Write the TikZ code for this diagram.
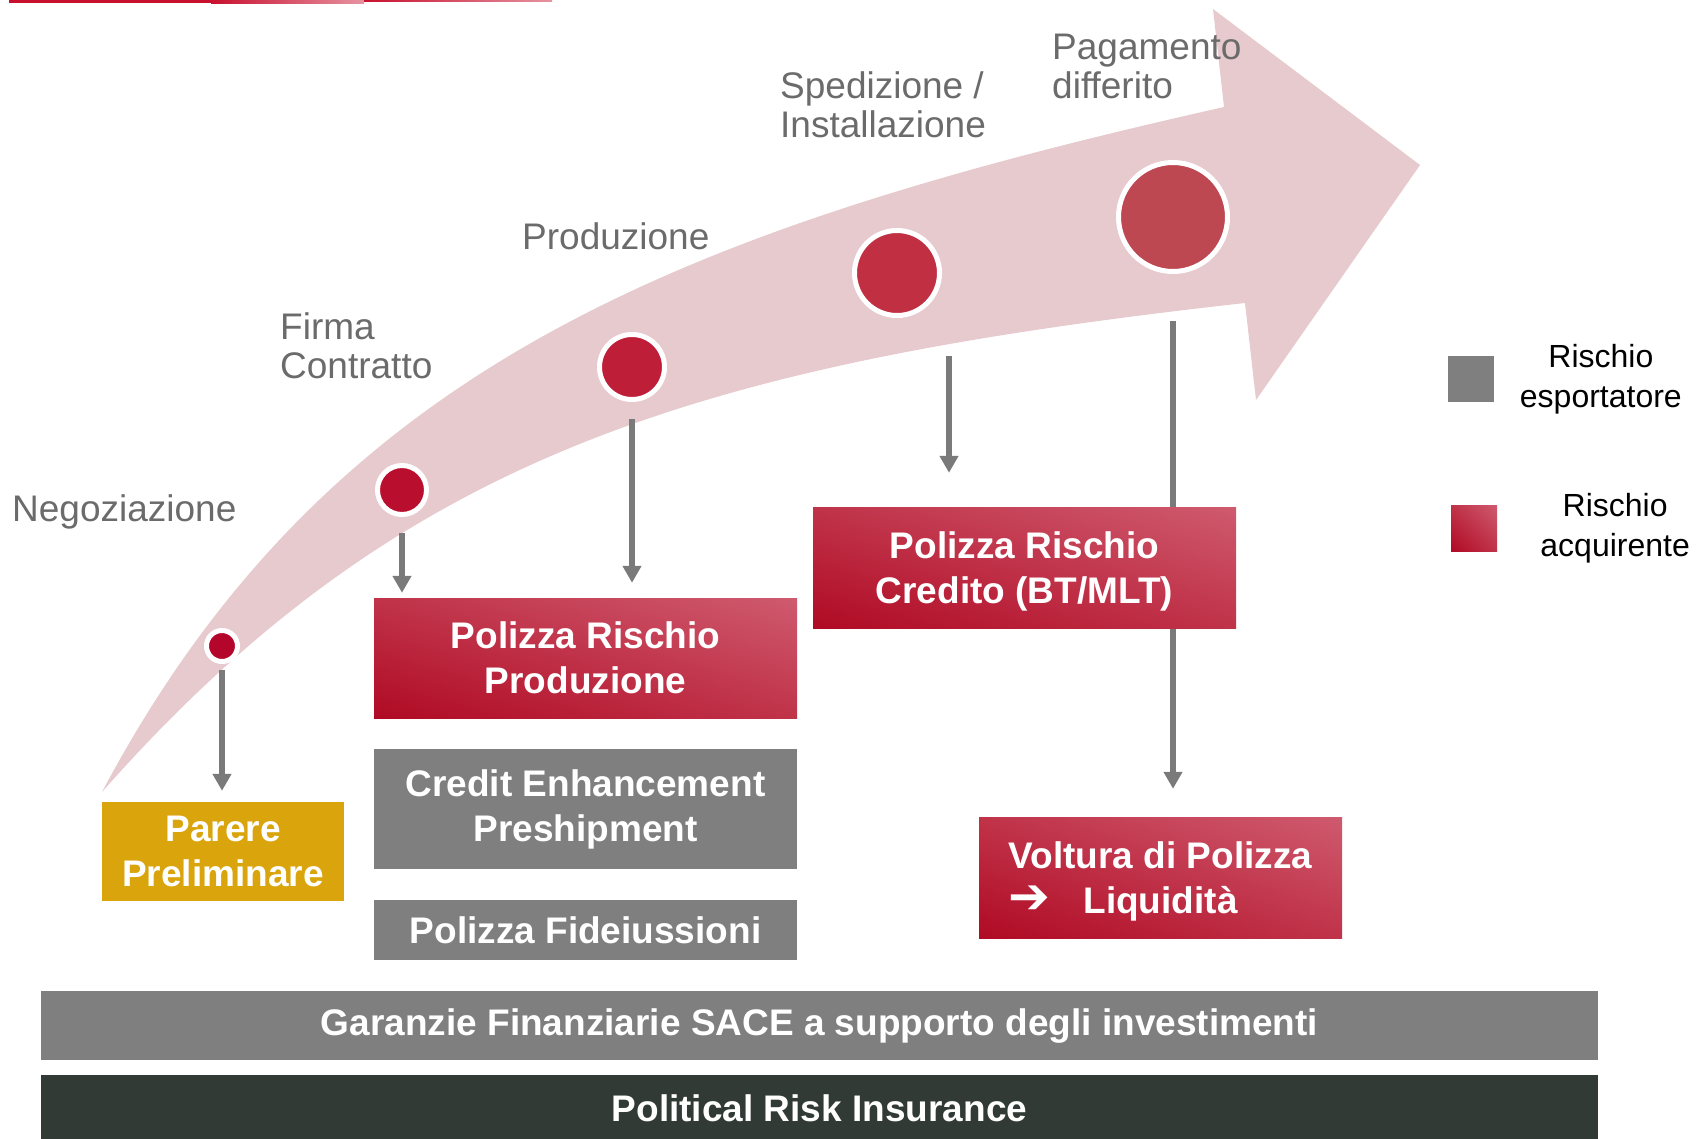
\documentclass[tikz,border=0pt]{standalone}
\usepackage{fontspec}
\setmainfont{Liberation Sans}
\newfontfamily\arrowfont{DejaVu Sans}
\usepackage{calc}
\usetikzlibrary{positioning,arrows.meta,shadings}

\definecolor{bandpink}{HTML}{E7CACE}
\definecolor{labelgray}{HTML}{6B6B6B}
\definecolor{conngray}{HTML}{7A7A7A}
\definecolor{boxgray}{HTML}{7F7F7F}
\definecolor{gold}{HTML}{DAA50C}
\definecolor{redlo}{HTML}{B00A24}
\definecolor{redmid}{HTML}{C03349}
\definecolor{redhi}{HTML}{CF5A6E}
\definecolor{darkbar}{HTML}{323A35}
\definecolor{accent}{HTML}{C8102E}
\definecolor{dot1}{HTML}{B4052A}
\definecolor{dot2}{HTML}{B90E2D}
\definecolor{dot3}{HTML}{BE1E37}
\definecolor{dot4}{HTML}{C03042}
\definecolor{dot5}{HTML}{BE4852}

\begin{document}
\begin{tikzpicture}[x=1pt,y=-1pt]
    \tikzset{
    stage/.style={circle,draw=white,line width=5pt,inner sep=0pt},
    phase/.style={anchor=base west,inner sep=0pt,align=left,text=labelgray,font=\fontsize{37}{39}\selectfont},
    box/.style={inner sep=0pt,align=center,text=white,font=\fontsize{37}{45}\selectfont\bfseries},
    redbox/.style={box,lower left=redlo,upper right=redhi,upper left=redmid,lower right=redmid},
    graybox/.style={box,fill=boxgray},
    conn/.style={draw=conngray,line width=5.5pt,-{Triangle[width=18pt,length=17pt]}},
    key/.style={inner sep=0pt,minimum size=46pt},
    keytext/.style={inner sep=0pt,align=center,font=\fontsize{32}{40}\selectfont},
    }
    \useasboundingbox (0,0) rectangle (1699,1138);

    % thin line at the top edge
    \fill[accent] (9,0) rectangle (211,3);
    \shade[left color=accent,right color=accent!45] (211,0) rectangle (364,3);
    \shade[left color=accent,right color=accent!45] (364,0) rectangle (552,1.5);

    % the big curved arrow
    \fill[bandpink] (102,792) .. controls (327,368) and (677,230) .. (1224,107)
        -- (1213,9) -- (1420,165) -- (1256,400) -- (1245,303)
        .. controls (698,364) and (400,454.5) .. (102,792) -- cycle;

    \node[stage,fill=dot1,minimum size=31pt] (c1) at (222,646) {};
    \node[stage,fill=dot2,minimum size=49pt] (c2) at (402,490) {};
    \node[stage,fill=dot3,minimum size=65pt] (c3) at (632,367) {};
    \node[stage,fill=dot4,minimum size=85pt] (c4) at (897,273) {};
    \node[stage,fill=dot5,minimum size=109pt] (c5) at (1173,217) {};

    \node[phase] (negoz) at (12,521) {Negoziazione};
    \node[phase] (firma) at (280,378) {Firma\\Contratto};
    \node[phase] (produz) at (522,249) {Produzione};
    \node[phase] (sped) at (780,137) {Spedizione /\\Installazione};
    \node[phase] (pagam) at (1052,98) {Pagamento\\differito};

    \node[box,fill=gold,minimum width=242pt,minimum height=99pt] (parere) at (223,851.5) {Parere\\Preliminare};
    \node[redbox,minimum width=423pt,minimum height=120pt] (prp) at (585.5,658) {Polizza Rischio\\Produzione};
    \node[graybox,minimum width=423pt,minimum height=120pt] (cep) at (585.5,809) {Credit Enhancement\\Preshipment};
    \node[graybox,minimum width=423pt,minimum height=60pt] (fid) at (585.5,930) {Polizza Fideiussioni};
    \node[redbox,minimum width=363pt,minimum height=121pt,text depth=0pt] (voltura) at (1160.5,877.5) {Voltura di Polizza\\\makebox[\widthof{Voltura di Polizza}]{\rlap{\arrowfont\mdseries\fontsize{50}{45}\selectfont ➔}\hfill Liquidità\hfill}};

    \draw[conn,shorten <=6pt,shorten >=11pt] (c1.south) -- (c1.south |- parere.north);
    \draw[conn,shorten <=16pt,shorten >=5pt] (c2.south) -- (c2.south |- prp.north);
    \draw[conn,shorten <=17pt,shorten >=15pt] (c3.south) -- (c3.south |- prp.north);
    \draw[conn,shorten <=47pt,shorten >=28pt] (c5.south) -- (c5.south |- voltura.north);

    \node[redbox,minimum width=423pt,minimum height=121pt,text depth=0pt] (credito) at (1024.5,567.5) {Polizza Rischio\\Credito (BT/MLT)};
    \coordinate (a4) at ([xshift=52pt]c4.south);
    \draw[conn,shorten <=38pt,shorten >=34pt] (a4) -- (a4 |- credito.north);

    \node[graybox,minimum width=1557pt,minimum height=69pt] (garanzie) at (819.5,1025.5) {Garanzie Finanziarie SACE a supporto degli investimenti};
    \node[box,fill=darkbar,minimum width=1557pt,minimum height=66pt] (pri) at (819.5,1108) {Political Risk Insurance};

    % legend
    \node[key,fill=boxgray] (kexp) at (1470.5,379) {};
    \node[keytext,right=26pt of kexp] (texp) {Rischio\\esportatore};
    \node[key,redbox] (kacq) at (1474,528) {};
    \node[keytext,right=43pt of kacq] (tacq) {Rischio\\acquirente};
\end{tikzpicture}
\end{document}
